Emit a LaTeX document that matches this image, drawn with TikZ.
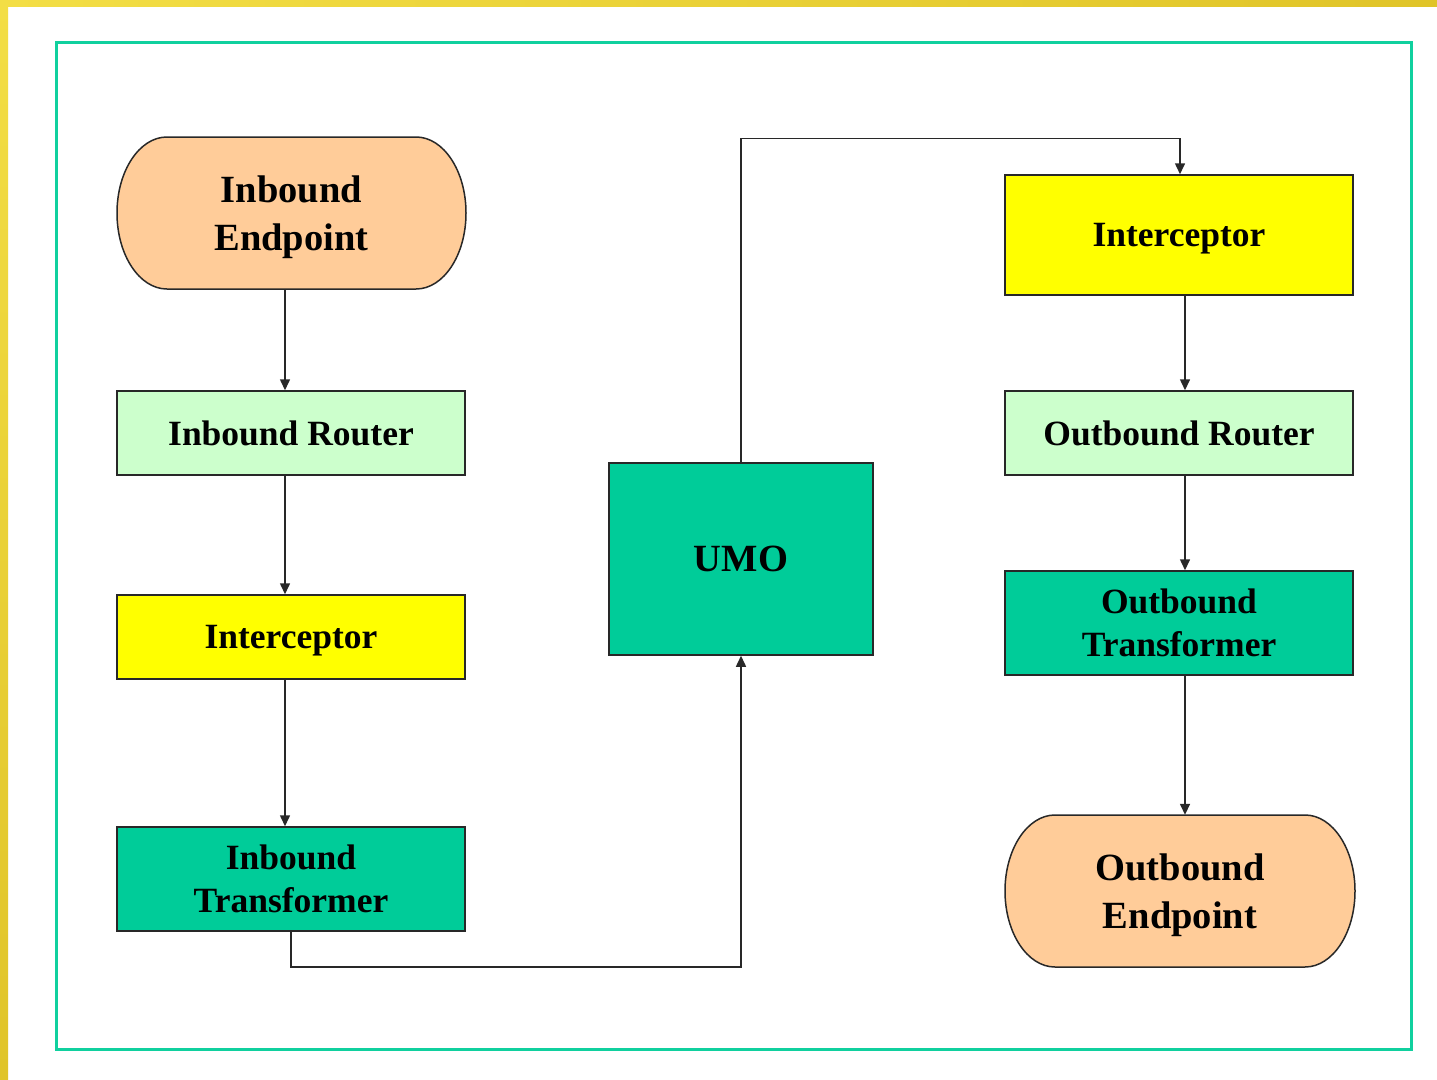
\documentclass[tikz,border=0pt]{standalone}
\usepackage{fontspec}
\setmainfont{Liberation Serif}
\usetikzlibrary{arrows.meta,calc}
\definecolor{peach}{RGB}{255,204,153}
\definecolor{lgreen}{RGB}{204,255,204}
\definecolor{yel}{RGB}{255,255,0}
\definecolor{teal}{RGB}{0,204,153}
\definecolor{frame}{RGB}{16,208,158}
\definecolor{goldA}{RGB}{243,222,69}
\definecolor{goldB}{RGB}{224,196,40}
\definecolor{linec}{RGB}{40,40,40}
\tikzset{
  x=1pt,y=1pt,
  box/.style={draw=linec,line width=1.5pt,rectangle,inner sep=0pt,anchor=center,text depth=0pt,
    minimum width=348pt,align=center,font=\bfseries\fontsize{35.5}{43}\selectfont},
  ends/.style={rectangle,inner sep=0pt,anchor=center,minimum width=350pt,minimum height=152pt,text depth=0pt,
    align=center,font=\bfseries\fontsize{38.5}{48}\selectfont},
  conn/.style={draw=linec,line width=1.5pt,-{Triangle[width=10pt,length=11pt]}},
}
\begin{document}
\begin{tikzpicture}
\useasboundingbox (0,0) rectangle (1437,-1079);
\fill[white] (0,0) rectangle (1437,-1079);
\shade[left color=goldA,right color=goldB] (0,0) rectangle (1437,-6);
\shade[top color=goldA,bottom color=goldB] (0,0) rectangle (8,-1079);
\draw[frame,line width=3.5pt] (56.5,-42.5) rectangle (1411.5,-1049.5);

% endpoint shapes
\fill[peach,draw=linec,line width=1.5pt] (167,-137) -- (416,-137)
  arc[start angle=90,end angle=-90,x radius=50pt,y radius=76pt] -- (167,-289)
  arc[start angle=270,end angle=90,x radius=50pt,y radius=76pt] -- cycle;
\fill[peach,draw=linec,line width=1.5pt] (1055,-815) -- (1305,-815)
  arc[start angle=90,end angle=-90,x radius=50pt,y radius=76pt] -- (1055,-967)
  arc[start angle=270,end angle=90,x radius=50pt,y radius=76pt] -- cycle;

\node[ends] (ie) at (291.5,-213) {Inbound\\Endpoint};
\node[ends] (oe) at (1180,-891) {Outbound\\Endpoint};

\node[box,fill=lgreen,minimum height=84pt] (ir) at (291,-433) {Inbound Router};
\node[box,fill=yel,minimum height=84pt] (il) at (291,-637) {Interceptor};
\node[box,fill=teal,minimum height=104pt] (it) at (291,-879) {Inbound\\Transformer};
\node[box,fill=teal,minimum width=264pt,minimum height=192pt,font=\bfseries\fontsize{38.5}{48}\selectfont] (umo) at (741,-559) {UMO};
\node[box,fill=yel,minimum height=120pt] (oi) at (1179,-235) {Interceptor};
\node[box,fill=lgreen,minimum height=84pt] (or) at (1179,-433) {Outbound Router};
\node[box,fill=teal,minimum height=104pt] (ot) at (1179,-623) {Outbound\\Transformer};

\draw[conn] ([xshift=-6.5pt]ie.south) -- ([xshift=-6pt]ir.north);
\draw[conn] ([xshift=-6pt]ir.south) -- ([xshift=-6pt]il.north);
\draw[conn] ([xshift=-6pt]il.south) -- ([xshift=-6pt]it.north);
\draw[conn] (it.south) -- ++(0,-35) -| (umo.south);
\draw[conn] (umo.north) -- ++(0,324) -| ([xshift=1pt]oi.north);
\draw[conn] ([xshift=6pt]oi.south) -- ([xshift=6pt]or.north);
\draw[conn] ([xshift=6pt]or.south) -- ([xshift=6pt]ot.north);
\draw[conn] ([xshift=6pt]ot.south) -- ([xshift=5pt]oe.north);
\end{tikzpicture}
\end{document}
